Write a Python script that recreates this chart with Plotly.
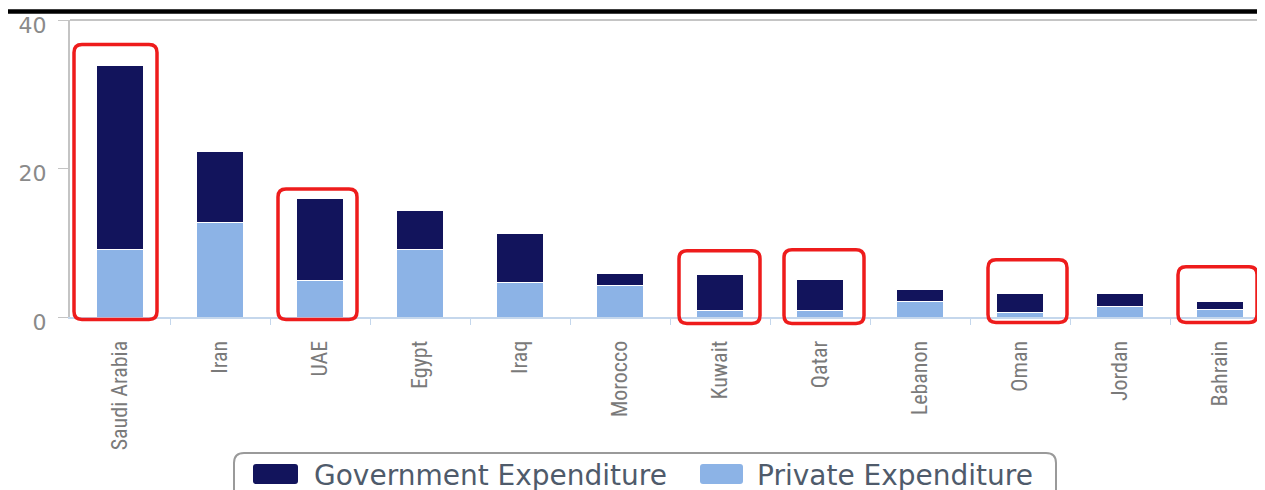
import plotly.graph_objects as go

# ---------------- data ----------------
categories = ["Saudi Arabia", "Iran", "UAE", "Egypt", "Iraq", "Morocco",
              "Kuwait", "Qatar", "Lebanon", "Oman", "Jordan", "Bahrain"]
government = [24.8, 9.6, 11.0, 5.3, 6.7, 1.6, 4.8, 4.2, 1.6, 2.5, 1.7, 1.1]
private = [9.1, 12.7, 4.9, 9.1, 4.6, 4.2, 0.9, 0.9, 2.1, 0.6, 1.4, 1.0]
series_names = ["Government Expenditure", "Private Expenditure"]
y_ticks = [0, 20, 40]
highlighted = ["Saudi Arabia", "UAE", "Kuwait", "Qatar", "Oman", "Bahrain"]

# ---------------- style ----------------
OFF = 8                      # default page body margin
W, H = 1265, 490
ML, MR = 70 - OFF, OFF
MT = 19.5 - OFF
MB = H - (317.5 - OFF)
PW, PH = W - ML - MR, H - MT - MB
NAVY = "#12145c"
LIGHT = "#8cb3e6"
RED = "#ee1c1c"


def px(xp):  # screen x (reference pixels) -> paper x
    return (xp - OFF - ML) / PW


def py(yp):  # screen y (reference pixels) -> paper y
    return (H - MB - (yp - OFF)) / PH


# highlight box geometry (x offsets from category centre, top/bottom in screen pixels)
box_style = {
    "Saudi Arabia": (-0.46, 0.37, 44, 320),
    "UAE": (-0.42, 0.37, 189, 320),
    "Kuwait": (-0.41, 0.40, 251, 324),
    "Qatar": (-0.36, 0.44, 250, 324),
    "Oman": (-0.32, 0.47, 260, 323),
    "Bahrain": (-0.42, 0.37, 267, 323),
}


def rounded(x0, x1, y0, y1, rx, ry):
    return (f"M {x0+rx},{y0} L {x1-rx},{y0} Q {x1},{y0} {x1},{y0+ry} "
            f"L {x1},{y1-ry} Q {x1},{y1} {x1-rx},{y1} L {x0+rx},{y1} "
            f"Q {x0},{y1} {x0},{y1-ry} L {x0},{y0+ry} Q {x0},{y0} {x0+rx},{y0} Z")


xs = list(range(len(categories)))

fig = go.Figure()
fig.add_trace(go.Bar(x=xs, y=private, name=series_names[1], marker_color=LIGHT,
                     marker_line=dict(color="white", width=1), width=0.47))
fig.add_trace(go.Bar(x=xs, y=government, name=series_names[0], marker_color=NAVY,
                     marker_line=dict(color="white", width=1), width=0.47))

shapes = []
# thick black rule at the very top
shapes.append(dict(type="line", xref="paper", yref="paper", x0=px(0), x1=px(1280),
                   y0=py(11), y1=py(11), line=dict(color="black", width=4.5)))
# top border line at 40
shapes.append(dict(type="line", xref="paper", yref="paper", x0=0, x1=px(1280),
                   y0=1, y1=1, line=dict(color="#c4c4c4", width=2)))
# red highlight boxes
for name in highlighted:
    i = categories.index(name)
    dx0, dx1, top, bot = box_style[name]
    path = rounded(i + dx0, i + dx1, py(bot), py(top), 0.08, 8 / PH)
    shapes.append(dict(type="path", xref="x", yref="paper", path=path,
                       line=dict(color=RED, width=3.5), layer="above"))

# manual legend
shapes.append(dict(type="path", xref="paper", yref="paper",
                   path=rounded(px(234), px(1056), py(505), py(454), 10 / PW, 10 / PH),
                   line=dict(color="#9a9a9a", width=2)))
shapes.append(dict(type="path", xref="paper", yref="paper",
                   path=rounded(px(253), px(298), py(485), py(465), 3 / PW, 3 / PH),
                   fillcolor=NAVY, line=dict(width=0)))
shapes.append(dict(type="path", xref="paper", yref="paper",
                   path=rounded(px(700), px(743), py(485), py(465), 3 / PW, 3 / PH),
                   fillcolor=LIGHT, line=dict(width=0)))

legend_font = dict(family="DejaVu Sans", size=28, color="#4f5b6b")
annotations = [
    dict(xref="paper", yref="paper", x=px(312), y=py(477), xanchor="left", yanchor="middle",
         text=series_names[0], showarrow=False, font=legend_font),
    dict(xref="paper", yref="paper", x=px(755), y=py(477), xanchor="left", yanchor="middle",
         text=series_names[1], showarrow=False, font=legend_font),
]

fig.update_layout(
    width=W, height=H,
    barmode="stack",
    showlegend=False,
    plot_bgcolor="white", paper_bgcolor="white",
    margin=dict(l=ML, r=MR, t=MT, b=MB, pad=0, autoexpand=False),
    shapes=shapes,
    annotations=annotations,
    xaxis=dict(
        range=[-0.5, 11.45], tickmode="array", tickvals=xs, ticktext=categories,
        tickangle=-90, ticks="", showgrid=False, zeroline=False,
        showline=True, linecolor="#c5d7ec", linewidth=2,
        ticklabelstandoff=13,
        tickfont=dict(family="Liberation Sans Narrow, Roboto Condensed, Roboto", size=22, color="#7a7a7a"),
        minor=dict(tickmode="array", tickvals=[i + 0.5 for i in xs], ticks="outside",
                   ticklen=6, tickcolor="#c5d7ec", tickwidth=1, showgrid=False),
    ),
    yaxis=dict(
        range=[0, 40], tickmode="array", tickvals=y_ticks, ticks="outside", ticklen=10,
        tickcolor="#c4c4c4", showline=True, linecolor="#c4c4c4", linewidth=2,
        showgrid=False, zeroline=False, ticklabelstandoff=7, ticklabeloverflow="allow",
        ticklabelshift=5,
        tickfont=dict(family="DejaVu Sans", size=22, color="#8a8a8a"),
    ),
)

fig.write_html("out.html")
